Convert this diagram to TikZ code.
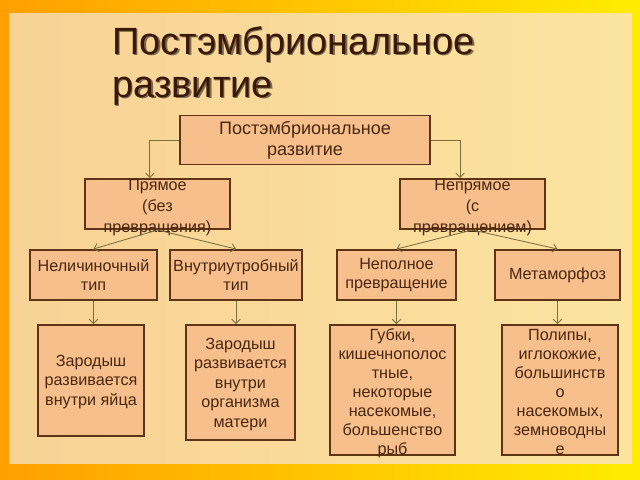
\documentclass[tikz,border=0pt]{standalone}
\usepackage{fontspec}
\setmainfont{Liberation Sans}
\usetikzlibrary{arrows.meta}
\definecolor{boxfill}{HTML}{F6BF8C}
\definecolor{boxline}{HTML}{5E3414}
\definecolor{textbrown}{HTML}{4A2810}
\definecolor{linkcol}{HTML}{7D6E3A}
\definecolor{titlecol}{HTML}{3A1808}

\begin{document}
\begin{tikzpicture}[x=0.025cm,y=-0.025cm,
  box/.style={draw=boxline,fill=boxfill,line width=1.4pt,text=textbrown,align=center,
    font=\fontsize{11.5}{13.8}\selectfont,inner xsep=0pt,inner ysep=0pt},
  sz/.style 2 args={minimum width=#1*0.025cm,minimum height=#2*0.025cm},
  % last baseline: height above it and depth below it (for boxes whose text spills over)
  tx/.style 2 args={text height=#1*0.025cm,text depth=#2*0.025cm},
  link/.style={draw=linkcol,line width=0.6pt,-{Straight Barb[length=3pt,width=6pt]}},
  title/.style={anchor=north west,align=left,font=\fontsize{27}{30.5}\selectfont}]
  \useasboundingbox (0,0) rectangle (640,480);
  % background
  \shade[left color=orange!75!yellow,right color=yellow!85!orange] (0,0) rectangle (640,480);
  \shade[left color={rgb,255:red,248;green,210;blue,150},right color={rgb,255:red,251;green,228;blue,160}]
    (9,13) rectangle (632,463);
  % title
  \node[title,text=black,opacity=0.5] at (109,23) {Постэмбриональное\\развитие};
  \node[title,text=titlecol] (T) at (107.5,21.5) {Постэмбриональное\\развитие};
  % boxes
  \node[box,sz={250}{49},font=\fontsize{12.8}{15}\selectfont] (root) at (305,140) {Постэмбриональное\\развитие};
  \node[box,sz={145}{50},tx={56}{0},inner ysep=-3*0.025cm] (pr) at (157.5,204) {Прямое\\[1pt](без\\[1pt]превращения)};
  \node[box,sz={145}{50},tx={56}{0},inner ysep=-3*0.025cm] (np) at (472.5,204) {Непрямое\\[1pt](с\\[1pt]превращением)};
  \node[box,sz={127}{50}] (n1) at (93.5,275) {Неличиночный\\тип};
  \node[box,sz={132}{50}] (n2) at (236,275) {Внутриутробный\\тип};
  \node[box,sz={119}{50}] (n3) at (396.5,275) {Неполное\\превращение};
  \node[box,sz={125}{50}] (n4) at (557.5,275) {Метаморфоз};
  \node[box,sz={106}{111},tx={80}{31}] (b1) at (91,380.5) {Зародыш\\развивается\\внутри яйца};
  \node[box,sz={109}{115},tx={102}{13}] (b2) at (240.5,382.5) {Зародыш\\развивается\\внутри\\организма\\матери};
  \node[box,sz={125}{130},tx={129}{1},font=\fontsize{11.5}{13.5}\selectfont] (b3) at (392.5,390) {Губки,\\кишечнополос\\тные,\\некоторые\\насекомые,\\большенство\\рыб};
  \node[box,sz={116}{130},tx={129}{1},font=\fontsize{11.5}{13.5}\selectfont] (b4) at (560,390) {Полипы,\\иглокожие,\\большинств\\о\\насекомых,\\земноводны\\е};
  % links
  \draw[link] (root.west) -| ([xshift=-0.19cm]pr.north);
  \draw[link] (root.east) -| ([xshift=-0.31cm]np.north);
  \draw[link] (pr.south) -- (n1.north);
  \draw[link] (pr.south) -- (n2.north);
  \draw[link] (np.south) -- (n3.north);
  \draw[link] (np.south) -- (n4.north);
  \foreach \a/\b in {n1/b1,n2/b2,n3/b3,n4/b4}
    \draw[link] (\a.south) -- (\a.south |- \b.north);
\end{tikzpicture}
\end{document}
